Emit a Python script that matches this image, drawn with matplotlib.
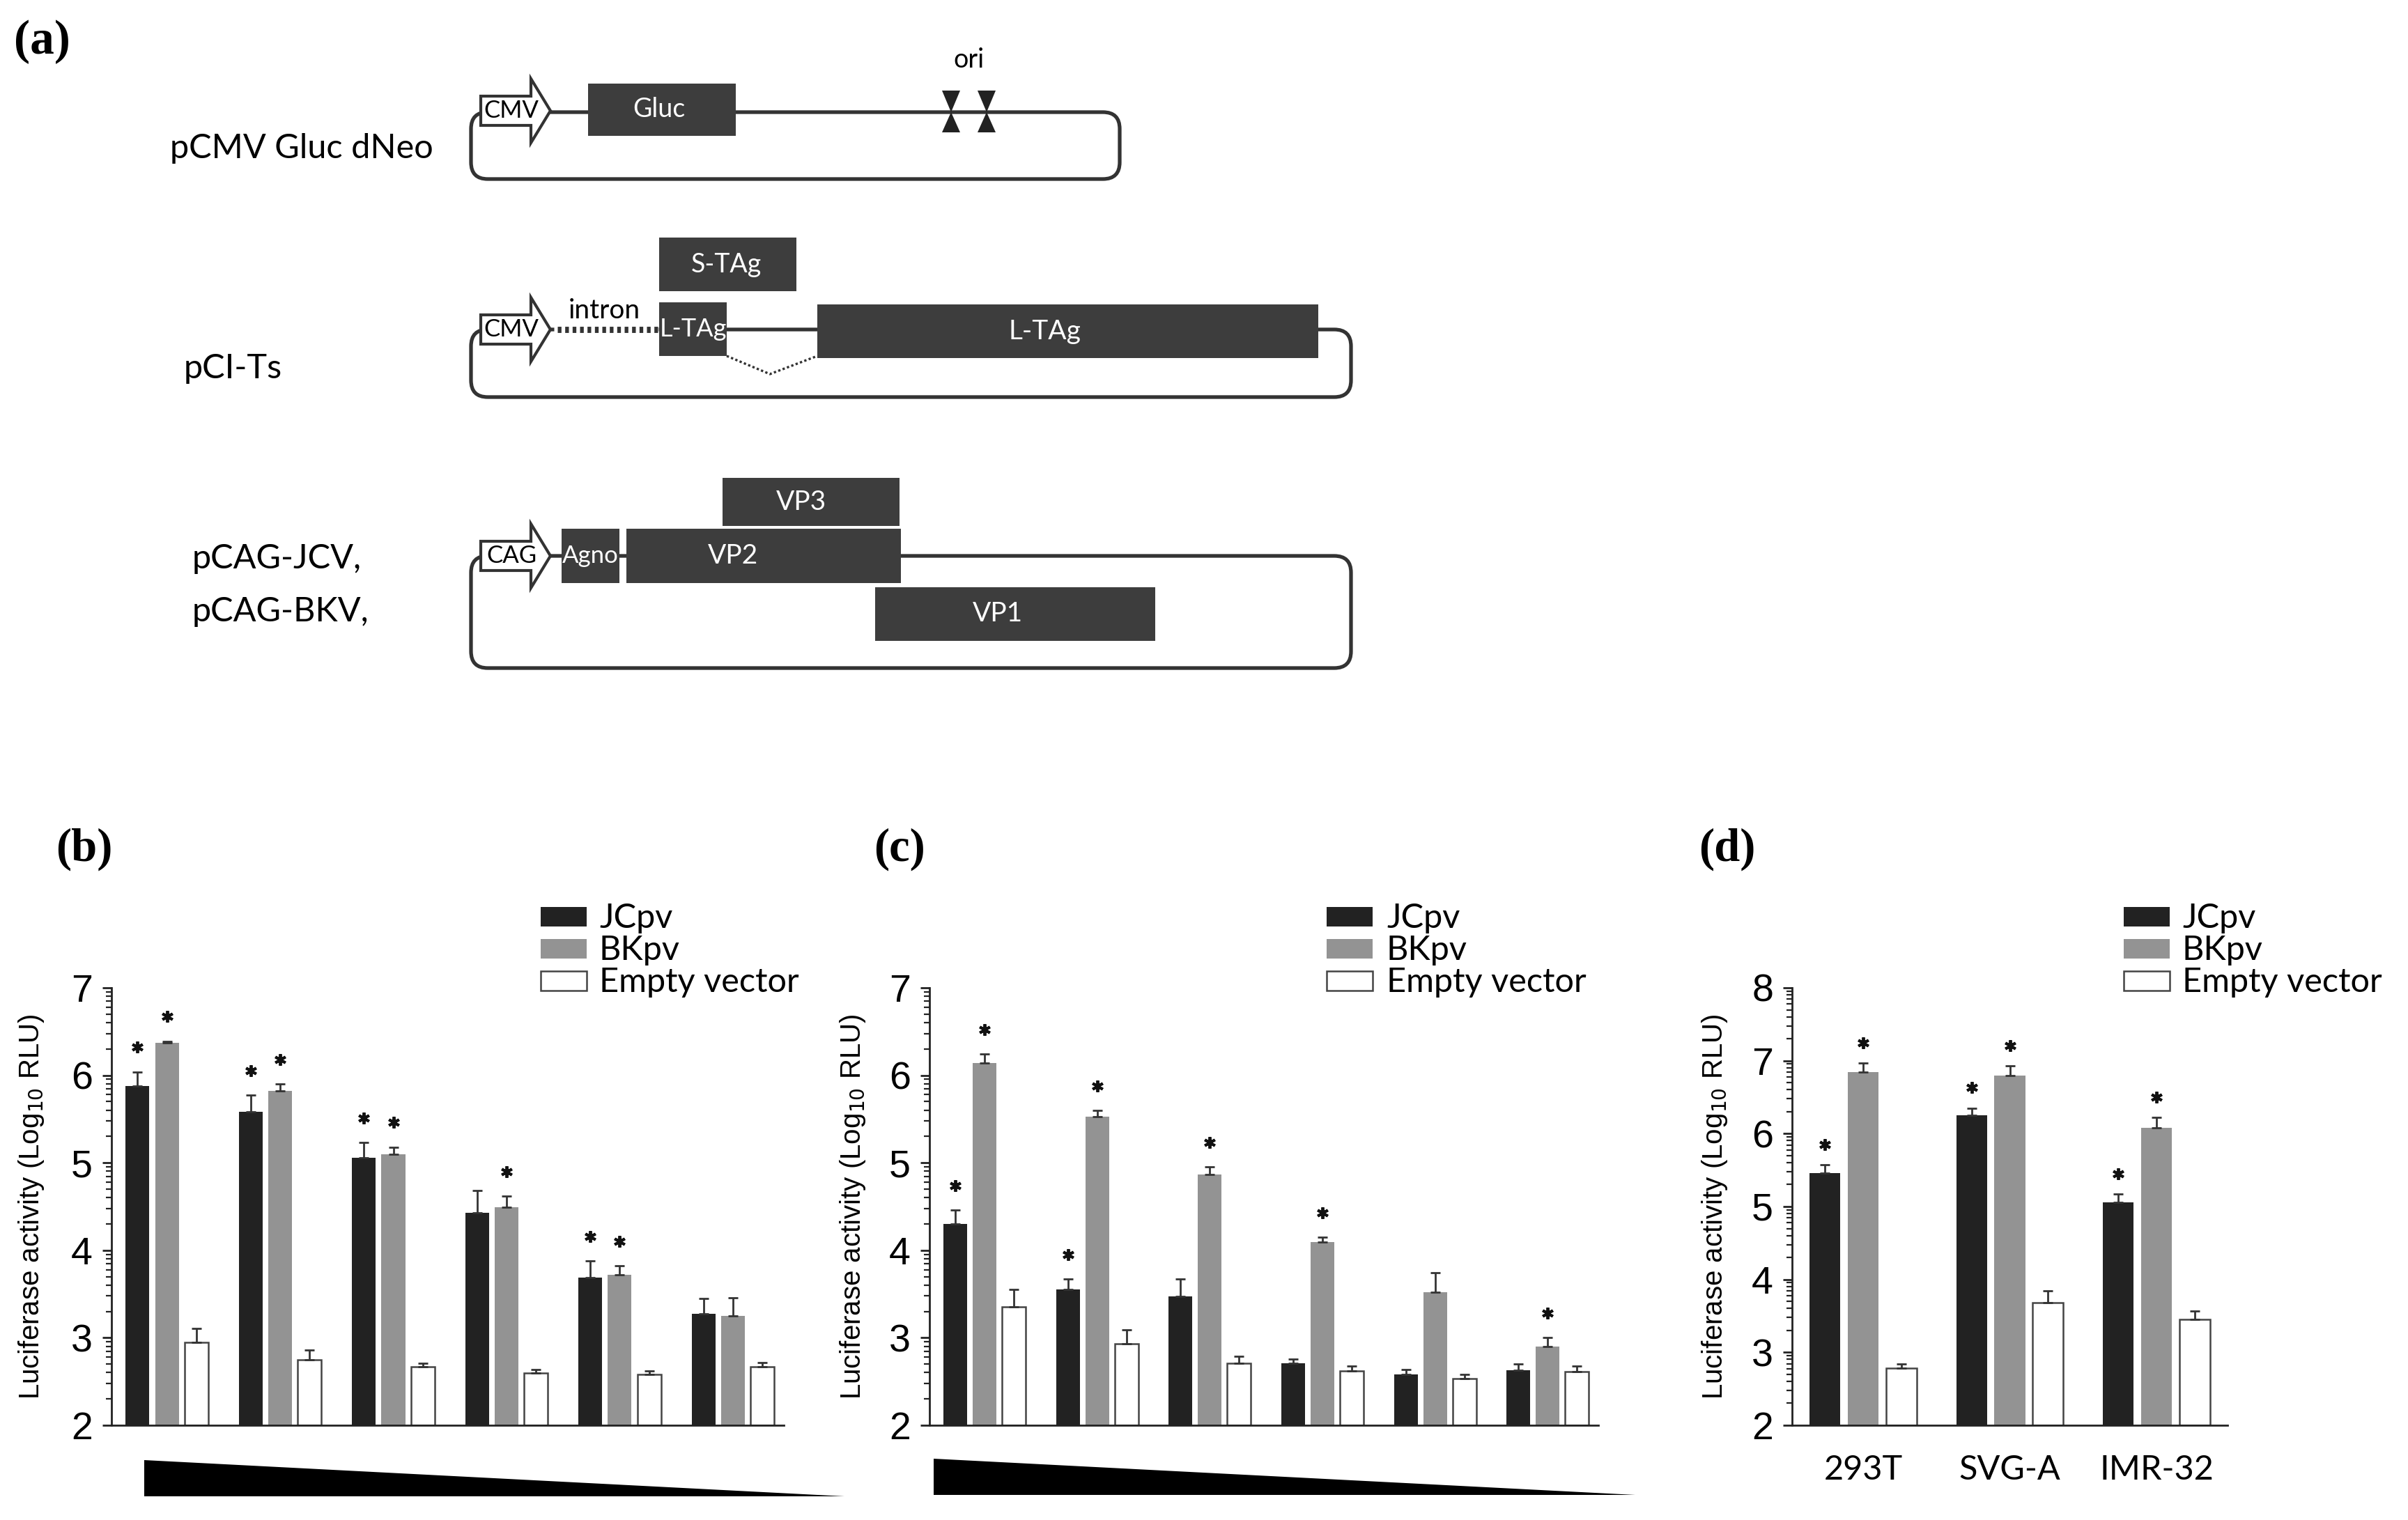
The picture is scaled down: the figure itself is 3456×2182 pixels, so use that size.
import numpy as np
import matplotlib
matplotlib.use("Agg")
import matplotlib.pyplot as plt
from matplotlib.patches import Rectangle, Polygon, FancyBboxPatch
from matplotlib.ticker import FixedLocator

plt.rcParams['font.family'] = ['Liberation Sans', 'DejaVu Sans']

# ---------------- data ----------------
series = ["JCpv", "BKpv", "Empty vector"]

# panel (b)
b_jc = [5.88, 5.58, 5.06, 4.43, 3.69, 3.27]
b_jc_sem = [0.16, 0.19, 0.17, 0.25, 0.19, 0.18]
b_bk = [6.37, 5.82, 5.10, 4.49, 3.72, 3.25]
b_bk_sem = [0.02, 0.08, 0.08, 0.13, 0.10, 0.21]
b_ev = [2.95, 2.75, 2.67, 2.60, 2.58, 2.67]
b_ev_sem = [0.16, 0.11, 0.04, 0.04, 0.04, 0.05]
b_jc_star = [1, 1, 1, 0, 1, 0]
b_bk_star = [1, 1, 1, 1, 1, 0]

# panel (c)
c_jc = [4.30, 3.55, 3.47, 2.71, 2.58, 2.63]
c_jc_sem = [0.16, 0.12, 0.20, 0.05, 0.06, 0.07]
c_bk = [6.14, 5.53, 4.87, 4.09, 3.52, 2.90]
c_bk_sem = [0.10, 0.07, 0.08, 0.06, 0.22, 0.10]
c_ev = [3.35, 2.93, 2.71, 2.62, 2.53, 2.61]
c_ev_sem = [0.20, 0.16, 0.08, 0.06, 0.05, 0.07]
c_jc_star = [1, 1, 0, 0, 0, 0]
c_bk_star = [1, 1, 1, 1, 0, 1]

# panel (d)
d_cells = ["293T", "SVG-A", "IMR-32"]
d_jc = [5.46, 6.25, 5.06]
d_jc_sem = [0.11, 0.10, 0.11]
d_bk = [6.84, 6.80, 6.08]
d_bk_sem = [0.13, 0.13, 0.14]
d_ev = [2.78, 3.68, 3.45]
d_ev_sem = [0.06, 0.16, 0.12]
d_jc_star = [1, 1, 1]
d_bk_star = [1, 1, 1]

# ---------------- style ----------------
W, H = 3456, 2182
C_JC = '#222222'
C_BK = '#939393'
C_EV = '#ffffff'
C_BOX = '#3d3d3d'
C_LINE = '#333333'
CAL = ['Lato', 'DejaVu Sans']
SERIF = ['Liberation Serif', 'DejaVu Serif']

fig = plt.figure(figsize=(W / 200, H / 200), dpi=200)


def fr(l, t, r, b):
    return [l / W, 1 - b / H, (r - l) / W, (b - t) / H]


ov = fig.add_axes([0, 0, 1, 1], zorder=0)
ov.set_xlim(0, W)
ov.set_ylim(H, 0)
ov.axis('off')
ov.patch.set_alpha(0)

# ---------------- panel (a) diagram ----------------
def plasmid(x0, x1, ytop, ybot):
    p = FancyBboxPatch((x0, ytop), x1 - x0, ybot - ytop,
                       boxstyle="round,pad=0,rounding_size=24",
                       fill=False, ec=C_LINE, lw=1.9, zorder=1)
    ov.add_patch(p)


def box(x0, x1, y0, y1, label, fs=13, tx=None):
    ov.add_patch(Rectangle((x0, y0), x1 - x0, y1 - y0, fc=C_BOX, ec='none', zorder=3))
    if tx is None:
        tx = (x0 + x1) / 2
    ov.text(tx, (y0 + y1) / 2, label, color='white', fontsize=fs,
            family=CAL, ha='center', va='center', zorder=4)


def promoter(xl, yc, label):
    pts = [(xl, yc - 21), (xl + 72, yc - 21), (xl + 72, yc - 46), (xl + 100, yc),
           (xl + 72, yc + 46), (xl + 72, yc + 21), (xl, yc + 21)]
    ov.add_patch(Polygon(pts, closed=True, fc='white', ec=C_LINE, lw=1.5, zorder=5))
    ov.text(xl + 44, yc, label, fontsize=12.5, family=CAL, ha='center', va='center', zorder=6)


ov.text(20, 60, "(a)", fontsize=25, fontweight='bold', family=SERIF, ha='left', va='center')

# pCMV Gluc dNeo
ov.text(244, 213, "pCMV Gluc dNeo", fontsize=17.5, family=CAL, ha='left', va='center')
plasmid(676, 1607, 161, 257)
promoter(690, 159, "CMV")
box(844, 1056, 120, 195, "Gluc", 13.5, tx=946)
for xc in (1365, 1416):
    ov.add_patch(Polygon([(xc - 13, 130), (xc + 13, 130), (xc, 161)], fc='#222', ec='none', zorder=4))
    ov.add_patch(Polygon([(xc - 13, 190), (xc + 13, 190), (xc, 161)], fc='#222', ec='none', zorder=4))
ov.text(1390, 86, "ori", fontsize=13.5, family=CAL, ha='center', va='center')

# pCI-Ts
ov.text(264, 529, "pCI-Ts", fontsize=17.5, family=CAL, ha='left', va='center')
plasmid(676, 1939, 473, 570)
ov.plot([795, 945], [473, 473], color='white', lw=4, zorder=2, solid_capstyle='butt')
ov.plot([800, 944], [473, 473], color=C_LINE, lw=3.2, ls=(0, (0.6, 0.6)), zorder=2)
ov.text(867, 446, "intron", fontsize=14, family=CAL, ha='center', va='center')
promoter(690, 473, "CMV")
box(946, 1143, 341, 418, "S-TAg", 13.5, tx=1042)
box(946, 1043, 434, 511, "L-TAg", 13)
box(1173, 1892, 437, 514, "L-TAg", 14, tx=1499)
ov.plot([1043, 1105, 1173], [511, 537, 511], color=C_LINE, lw=1.2, ls=(0, (1, 1)), zorder=2)

# pCAG
ov.text(276, 802, "pCAG-JCV,", fontsize=17.5, family=CAL, ha='left', va='center')
ov.text(276, 878, "pCAG-BKV,", fontsize=17.5, family=CAL, ha='left', va='center')
plasmid(676, 1939, 798, 959)
promoter(690, 798, "CAG")
box(806, 889, 759, 837, "Agno", 12.5)
box(899, 1293, 759, 837, "VP2", 14, tx=1052)
box(1037, 1291, 686, 755, "VP3", 14, tx=1150)
box(1256, 1658, 843, 920, "VP1", 14, tx=1432)

# ---------------- bar panels ----------------
OFF = [-0.26, 0.0, 0.26]
BW = 0.21


def bar_panel(rect, ymax, vals, sems, stars, xlabels=None, star_off=0.28):
    ax = fig.add_axes(fr(*rect), zorder=2)
    ax.patch.set_alpha(0)
    n = len(vals[0])
    x = np.arange(n)
    colors = [C_JC, C_BK, C_EV]
    for k in range(3):
        v = np.array(vals[k])
        s = np.array(sems[k])
        ec = '#444444' if k == 2 else 'none'
        lw = 0.9 if k == 2 else 0
        ax.bar(x + OFF[k], v - 2, bottom=2, width=BW, color=colors[k], edgecolor=ec,
               linewidth=lw, zorder=2)
        ax.errorbar(x + OFF[k], v, yerr=[np.zeros(n), s], fmt='none', ecolor=C_LINE,
                    elinewidth=1.0, capsize=2.5, capthick=1.0, zorder=3)
        if k < 2:
            st = np.array(stars[k]).astype(bool)
            ax.plot((x + OFF[k])[st], (v + s)[st] + star_off, ls='none',
                    marker=(6, 2, 0), markersize=6, mew=1.4, color='#111111', zorder=4)
    ax.set_ylim(2, ymax)
    ax.set_xlim(-0.49, n - 1 + 0.45)
    ax.set_yticks(range(2, ymax + 1))
    minor = [m + np.log10(j) for m in range(2, ymax) for j in range(2, 10)]
    ax.yaxis.set_minor_locator(FixedLocator(minor))
    for sp in ['top', 'right']:
        ax.spines[sp].set_visible(False)
    for sp in ['left', 'bottom']:
        ax.spines[sp].set_linewidth(1.0)
        ax.spines[sp].set_color('#222222')
    ax.tick_params(axis='y', which='major', length=4.7, width=1.0, labelsize=20, pad=5,
                   color='#222222')
    ax.tick_params(axis='y', which='minor', length=2.8, width=0.8, color='#222222')
    if xlabels is None:
        ax.set_xticks([])
    else:
        ax.set_xticks(x)
        ax.set_xticklabels(xlabels, family=CAL, fontsize=17.5)
        ax.tick_params(axis='x', length=0, pad=15)
    ax.set_ylabel("Luciferase activity (Log$_{10}$ RLU)", fontsize=14.5)
    return ax


def legend(xs, xt):
    for i, (lab, c) in enumerate(zip(series, [C_JC, C_BK, C_EV])):
        yc = 1316 + 46 * i
        ov.add_patch(Rectangle((xs, yc - 14), 66, 28, fc=c,
                               ec='#444444' if i == 2 else 'none', lw=0.9, zorder=3))
        ov.text(xt, yc + 2, lab, fontsize=17.5, family=CAL, ha='left', va='center')


axb = bar_panel((160, 1418, 1125, 2046), 7, [b_jc, b_bk, b_ev], [b_jc_sem, b_bk_sem, b_ev_sem],
                [b_jc_star, b_bk_star])
axb.yaxis.set_label_coords(-0.097, 0.5)
axc = bar_panel((1334, 1418, 2294, 2046), 7, [c_jc, c_bk, c_ev], [c_jc_sem, c_bk_sem, c_ev_sem],
                [c_jc_star, c_bk_star])
axc.yaxis.set_label_coords(-0.093, 0.5)
axd = bar_panel((2572, 1418, 3197, 2046), 8, [d_jc, d_bk, d_ev], [d_jc_sem, d_bk_sem, d_ev_sem],
                [d_jc_star, d_bk_star], xlabels=d_cells, star_off=0.28)
axd.set_xlim(-0.485, 2.485)
axd.yaxis.set_label_coords(-0.144, 0.5)

legend(776, 860)
legend(1904, 1990)
legend(3048, 3132)

for lab, xl in (("(b)", 80), ("(c)", 1254), ("(d)", 2438)):
    ov.text(xl, 1219, lab, fontsize=24, fontweight='bold', family=SERIF, ha='left', va='center')

# dose wedges
ov.add_patch(Polygon([(207, 2096), (207, 2148), (1212, 2148)], fc='black', ec='none'))
ov.add_patch(Polygon([(1340, 2094), (1340, 2146), (2347, 2146)], fc='black', ec='none'))

fig.savefig("out.png", dpi=200, facecolor='white')
